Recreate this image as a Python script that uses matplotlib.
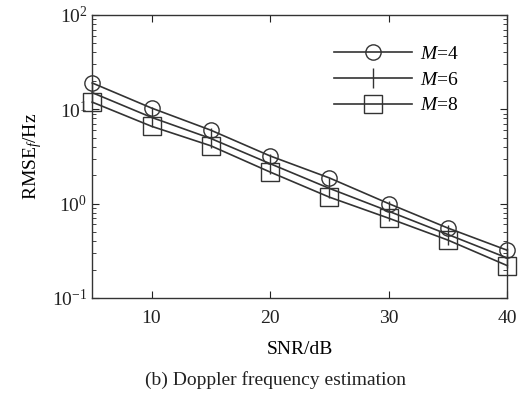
import matplotlib.pyplot as plt
import numpy as np

plt.rcParams['font.family'] = ['Liberation Serif', 'DejaVu Serif']
plt.rcParams['mathtext.fontset'] = 'custom'
plt.rcParams['mathtext.rm'] = 'Liberation Serif'
plt.rcParams['mathtext.it'] = 'Liberation Serif:italic'

# Data
snr = [5, 10, 15, 20, 25, 30, 35, 40]
rmse_m4 = [19.0, 10.3, 6.0, 3.2, 1.87, 1.0, 0.55, 0.32]
rmse_m6 = [15.0, 8.2, 4.9, 2.65, 1.45, 0.83, 0.47, 0.265]
rmse_m8 = [11.9, 6.6, 4.1, 2.16, 1.17, 0.70, 0.41, 0.22]
labels = ['$M$=4', '$M$=6', '$M$=8']

col = '#333333'
fig = plt.figure(figsize=(5.3, 3.93), dpi=100)
ax = fig.add_axes([0.174, 0.242, 0.783, 0.72])

ax.semilogy(snr, rmse_m4, color=col, lw=1.2, marker='o', ms=11, mfc='none',
            mec=col, mew=1.0, label=labels[0], clip_on=False)
ax.semilogy(snr, rmse_m6, color=col, lw=1.2, marker='|', ms=14,
            mec=col, mew=1.0, label=labels[1], clip_on=False)
ax.semilogy(snr, rmse_m8, color=col, lw=1.2, marker='s', ms=13, mfc='none',
            mec=col, mew=1.0, label=labels[2], clip_on=False)

ax.set_xlim(5, 40)
ax.set_ylim(0.1, 100)
ax.set_xticks([10, 20, 30, 40])
ax.tick_params(which='both', direction='in', top=True, right=True,
               labelsize=14, colors='#222222')
ax.tick_params(which='major', length=5)
ax.tick_params(which='minor', length=3)
ax.tick_params(axis='x', which='major', pad=9)
ax.tick_params(axis='x', which='minor', bottom=False, top=False)
for s in ax.spines.values():
    s.set_color('#333333')
    s.set_linewidth(1.0)

ax.set_ylabel('RMSE$_f$/Hz', fontsize=14, labelpad=6)
ax.set_xlabel('SNR/dB', fontsize=14, labelpad=10)

leg = ax.legend(loc='upper right', frameon=False, fontsize=14,
                bbox_to_anchor=(0.925, 0.955), handlelength=4.0,
                labelspacing=0.42, handletextpad=0.4)

fig.text(0.52, 0.02, '(b) Doppler frequency estimation', ha='center',
         fontsize=14, color='#222222')

fig.savefig('out.png', dpi=100)
